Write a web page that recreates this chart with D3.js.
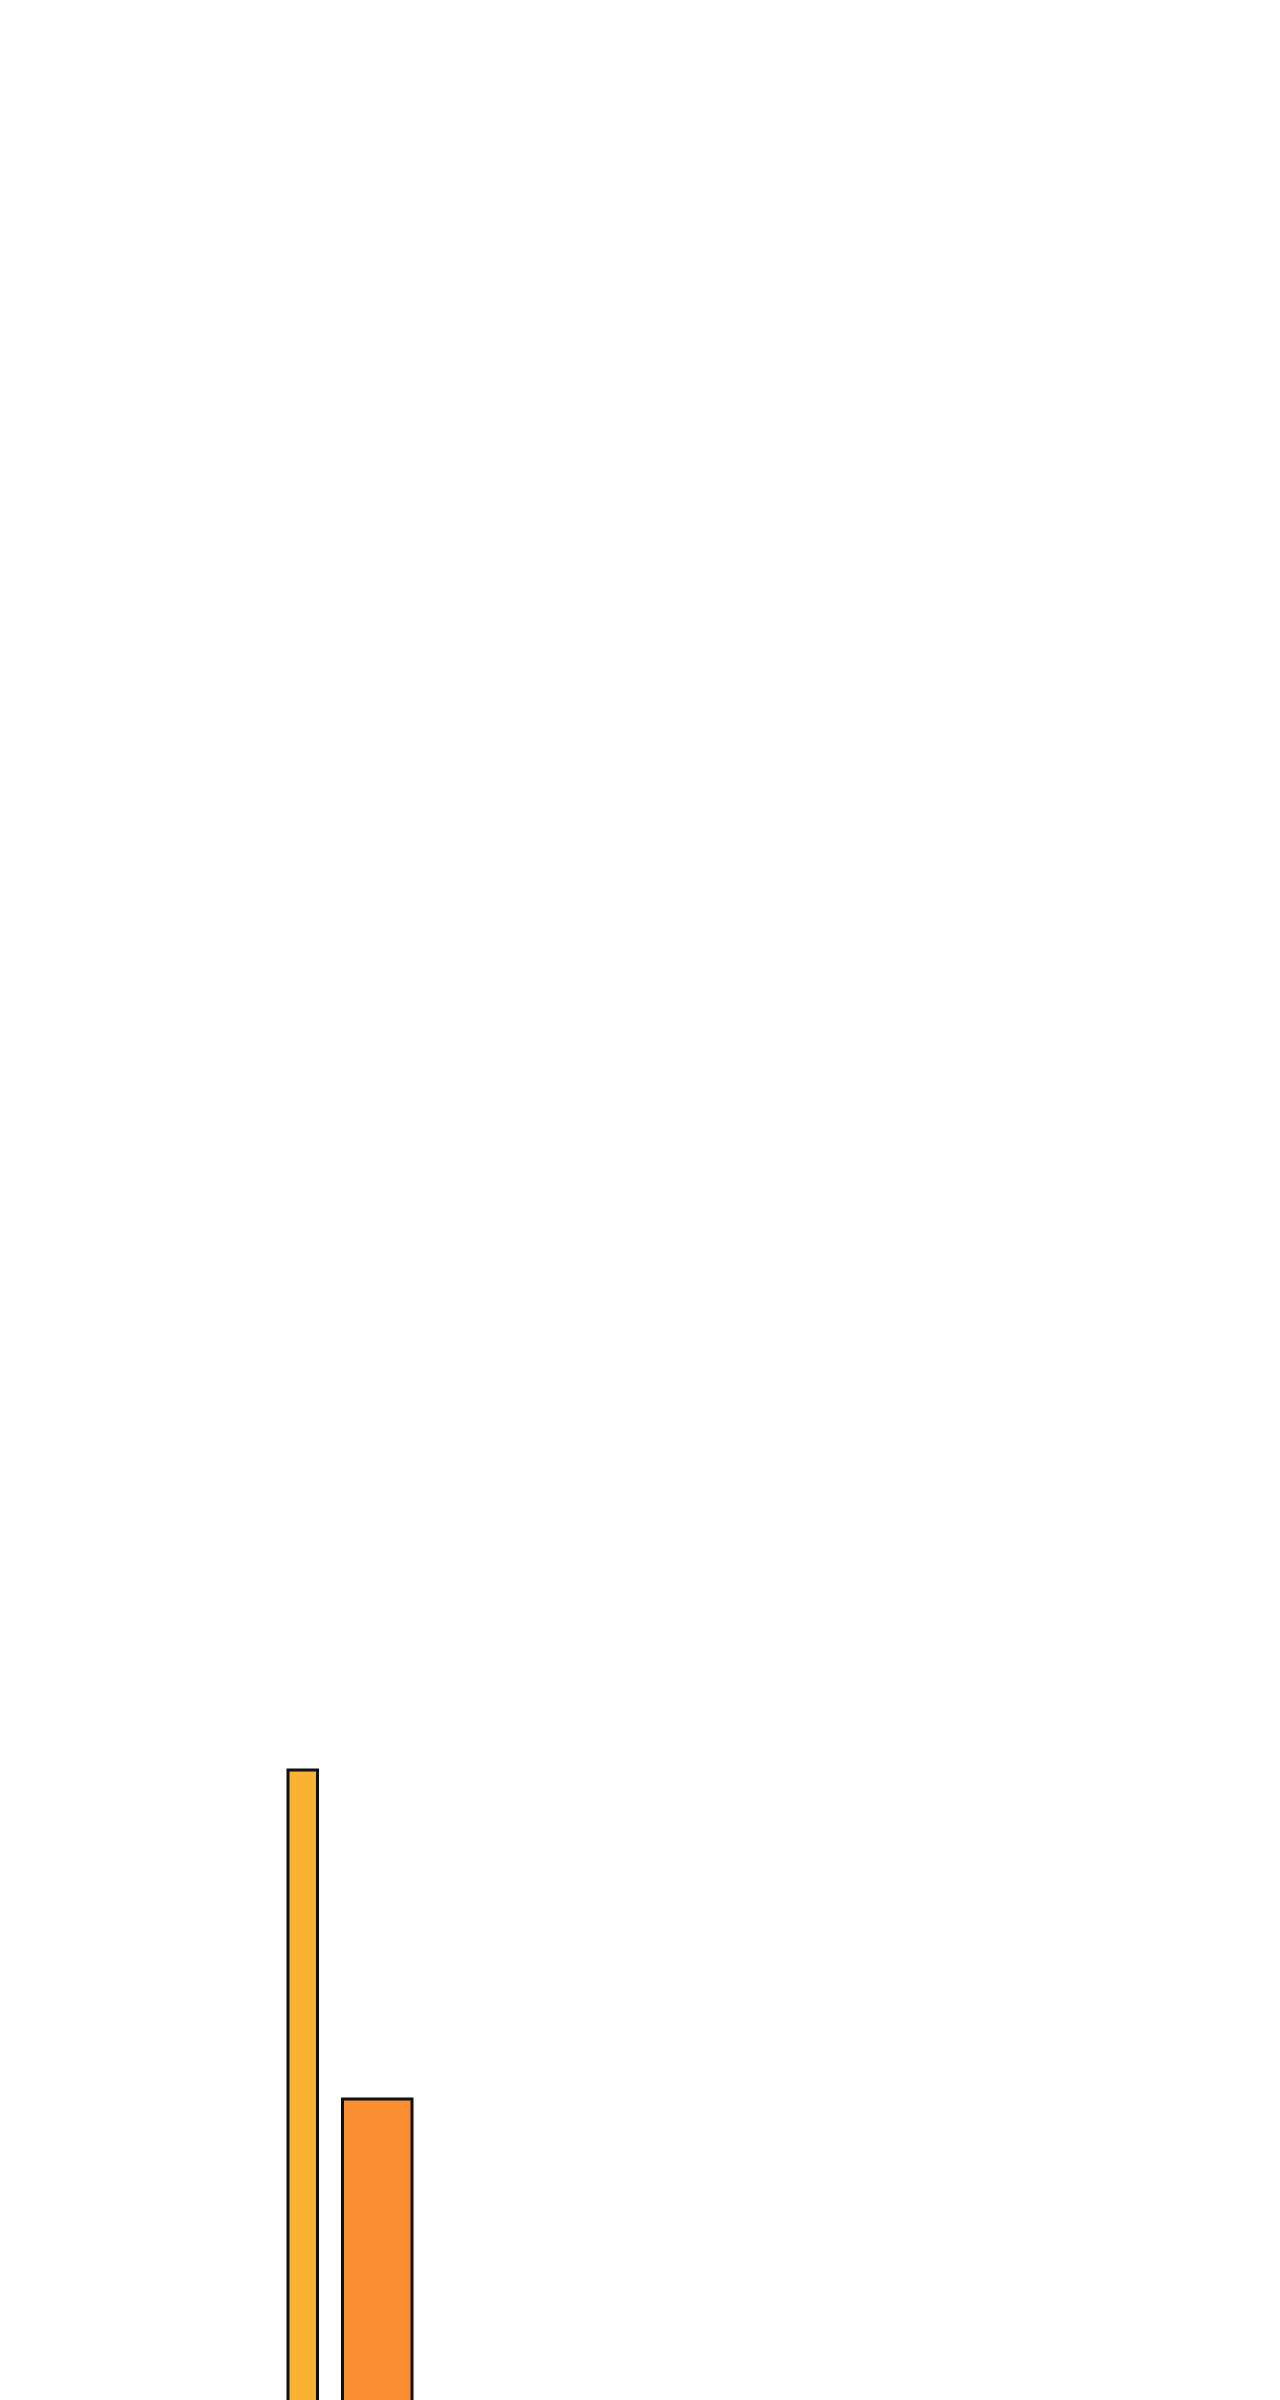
<!DOCTYPE html>
<html>
<head>
<meta charset="utf-8">
<script src="https://cdn.jsdelivr.net/npm/d3@7"></script>
<style>
  html, body { margin: 0; padding: 0; background: #ffffff; }
  svg { display: block; }
</style>
</head>
<body>
<div id="chart"></div>
<script>
// Data
const categories = ["A", "B"];
const values = [93, 60.1];      // bar heights in value units
const shares = [29.5, 69.5];    // relative bar widths
const colors = ["#fbb131", "#f98f31"];

const width = 1280, height = 2800;
const baseline = 2700, topY = 1700;
const gap = 25;

const svg = d3.select("#chart").append("svg")
  .attr("width", width).attr("height", height);

const y = d3.scaleLinear().domain([0, 100]).range([baseline, topY]);
const x = d3.scaleLinear().domain([0, 100]).range([288, 388]);

const cum = d3.cumsum(shares);
const data = categories.map((c, i) => ({
  c, v: values[i], s: shares[i], start: i === 0 ? 0 : cum[i - 1], i
}));

svg.append("g").selectAll("rect").data(data).join("rect")
  .attr("x", d => x(d.start) + d.i * gap)
  .attr("width", d => x(d.start + d.s) - x(d.start))
  .attr("y", d => y(d.v))
  .attr("height", d => y(0) - y(d.v))
  .attr("fill", (d, i) => colors[i])
  .attr("stroke", "#111")
  .attr("stroke-width", 3);
</script>
</body>
</html>
